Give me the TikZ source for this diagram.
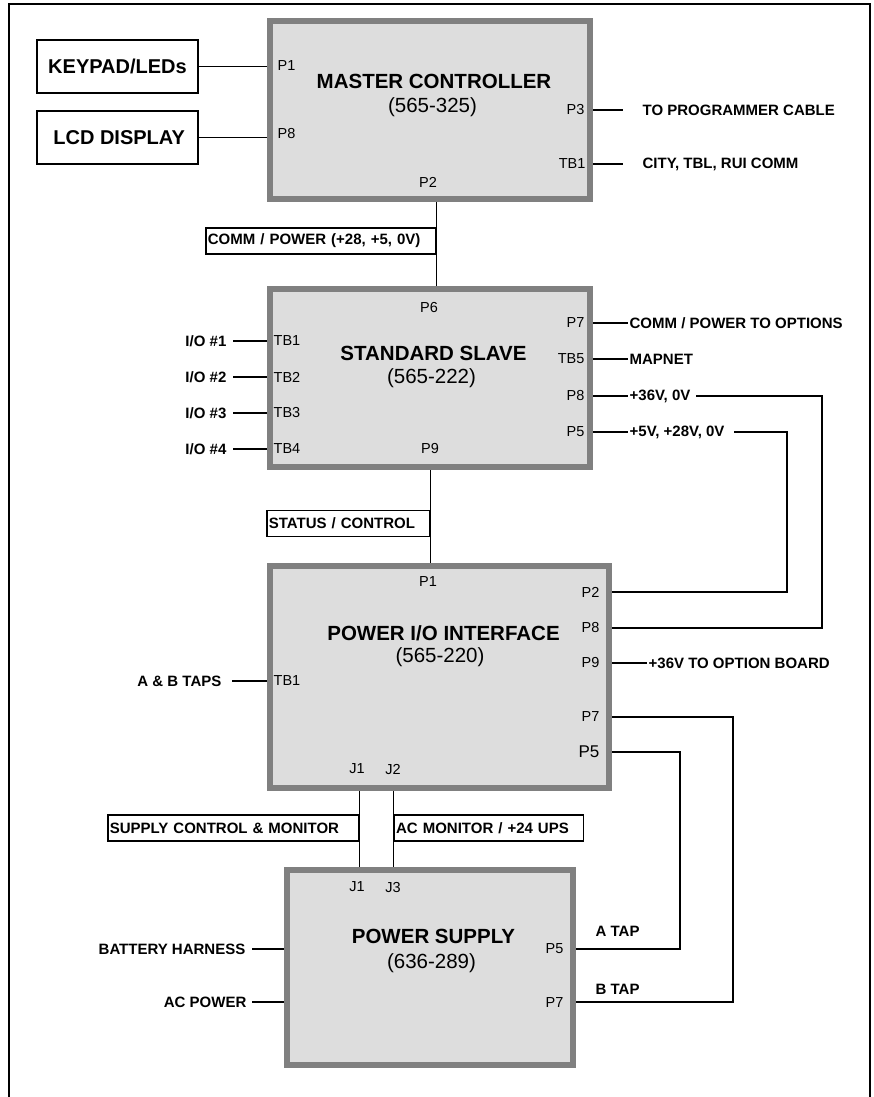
\documentclass[tikz,border=0pt]{standalone}
\usepackage{fontspec}
\setmainfont{Liberation Sans}
\usepackage{tikz}
\usetikzlibrary{positioning, calc}
\definecolor{boardgray}{RGB}{128, 128, 128}
\definecolor{boardfill}{RGB}{221, 221, 221}

\begin{document}
\begin{tikzpicture}[x=1pt, y=-1pt, line width=1.3pt,
    board/.style={draw=boardgray, fill=boardfill, line width=6pt, inner sep=0pt, outer sep=3pt},
    boardname/.style={font=\fontsize{20.5}{24}\selectfont\bfseries, inner sep=0pt, anchor=base},
    partno/.style={font=\fontsize{20.5}{24}\selectfont, inner sep=0pt, anchor=base},
    port/.style={font=\fontsize{14.5}{16}\selectfont, inner sep=1pt},
    sig/.style={font=\fontsize{15}{18}\selectfont\bfseries, inner sep=1pt},
    tag/.style={draw, font=\fontsize{15}{18}\selectfont\bfseries, inner sep=2pt, align=left, minimum height=26pt},
    ext/.style={draw, font=\fontsize{20}{24}\selectfont\bfseries, minimum width=161pt, minimum height=53pt}]
  \useasboundingbox (0,0) rectangle (873,1097);
  % Frame
  \draw[line width=1.5pt] (9,1097) |- (870,4) -- (870,1097);

  % Boards
  \node[board, minimum width=320pt, minimum height=178pt] (mc) at (430,110) {};
  \node[board, minimum width=320pt, minimum height=178pt] (ss) at (430,378) {};
  \node[board, minimum width=339pt, minimum height=222pt] (pio) at (439.5,677) {};
  \node[board, minimum width=286pt, minimum height=195pt] (ps) at (430,967.5) {};

  \node[boardname] (mcT) at (434,89) {MASTER CONTROLLER};
  \node[partno] (mcN) at (432.5,113) {(565-325)};
  \node[boardname] (ssT) at (433.5,360) {STANDARD SLAVE};
  \node[partno] (ssN) at (431.5,383) {(565-222)};
  \node[boardname] (pioT) at (443.5,640) {POWER I/O INTERFACE};
  \node[partno] (pioN) at (440,662.5) {(565-220)};
  \node[boardname] (psT) at (433.5,943) {POWER SUPPLY};
  \node[partno] (psN) at (431.5,968) {(636-289)};

  % Master controller
  \node[ext] (kp) at (117.5,66.5) {KEYPAD/LEDs};
  \node[ext] (lcd) at (117.5,137.5) {\,LCD DISPLAY};
  \node[port, anchor=west] (mcP1) at (276,66) {P1};
  \node[port, anchor=west] (mcP8) at (276,134) {P8};
  \node[port] (mcP2) at (428,182) {P2};
  \node[port, anchor=east] (mcP3) at (586,110) {P3};
  \node[port, anchor=east] (mcTB1) at (587,164) {TB1};
  \node[sig, anchor=west] (prog) at (641,110) {TO PROGRAMMER CABLE};
  \node[sig, anchor=west] (city) at (641,164) {CITY, TBL, RUI COMM};
  \draw (kp.east) -- (kp.east -| mc.west);
  \draw (lcd.east) -- (lcd.east -| mc.west);
  \draw (mc.east |- prog) -- ([xshift=-18pt]prog.west);
  \draw (mc.east |- city) -- ([xshift=-18pt]city.west);

  \node[tag, text width=226pt, anchor=east] (cpw) at (436.5,241) {COMM / POWER (+28, +5, 0V)};
  \draw (cpw.east |- mc.south) -- (cpw.east |- ss.north);

  % Standard slave
  \node[port] (ssP6) at (429,308) {P6};
  \node[port] (ssP9) at (430,449) {P9};
  \foreach \n/\y in {1/341, 2/377, 3/413, 4/449} {
    \node[port, anchor=west] (ssTB\n) at (272,\y) {TB\n};
    \node[sig, anchor=east] (io\n) at (228,\y) {I/O \#\n};
    \draw ([xshift=5pt]io\n.east) -- (io\n.east -| ss.west);
  }
  \node[port, anchor=east] (ssP7) at (586,323) {P7};
  \node[port, anchor=east] (ssTB5) at (586,359) {TB5};
  \node[port, anchor=east] (ssP8) at (586,396) {P8};
  \node[port, anchor=east] (ssP5) at (586,432) {P5};
  \node[sig, anchor=west] (opt) at (628,323) {COMM / POWER TO OPTIONS};
  \node[sig, anchor=west] (mapnet) at (628,359) {MAPNET};
  \node[sig, anchor=west] (v36) at (628,396) {+36V, 0V};
  \node[sig, anchor=west] (v528) at (628,432) {+5V, +28V, 0V};
  \draw (ss.east |- opt) -- (opt.west);
  \draw (ss.east |- mapnet) -- (mapnet.west);
  \draw (ss.east |- v36) -- (v36.west);
  \draw (ss.east |- v528) -- (v528.west);

  \node[tag, text width=159pt, anchor=east] (stat) at (430.5,523.5) {STATUS / CONTROL};
  \draw (stat.east |- ss.south) -- (stat.east |- pio.north);

  % Power I/O interface
  \node[port] (pioP1) at (428,582) {P1};
  \node[port] (pioJ1) at (357,769) {J1};
  \node[port] (pioJ2) at (393,769) {J2};
  \node[port, anchor=west] (pioTB1) at (272,681) {TB1};
  \node[sig, anchor=east] (taps) at (223,681) {A \& B TAPS};
  \draw ([xshift=9pt]taps.east) -- (taps.east -| pio.west);
  \node[port, anchor=east] (pioP2) at (601,592) {P2};
  \node[port, anchor=east] (pioP8) at (601,628) {P8};
  \node[port, anchor=east] (pioP9) at (601,663) {P9};
  \node[port, anchor=east] (pioP7) at (601,717) {P7};
  \node[port, anchor=east, font=\fontsize{17}{20}\selectfont] (pioP5) at (601,752) {P5};
  \node[sig, anchor=west] (obrd) at (647,663) {+36V TO OPTION BOARD};
  \draw (pio.east |- obrd) -- (obrd.west);

  \coordinate (riserA) at (822,0);
  \coordinate (riserB) at (787,0);
  \coordinate (riserC) at (680,0);
  \coordinate (riserD) at (733,0);
  \draw ([xshift=4pt]v36.east) -| (riserA |- pioP8) -- (pio.east |- pioP8);
  \draw ([xshift=8pt]v528.east) -| (riserB |- pioP2) -- (pio.east |- pioP2);

  \node[tag, text width=247pt, anchor=east] (scm) at (359.5,828) {SUPPLY CONTROL \& MONITOR};
  \node[tag, text width=185pt, anchor=west] (acm) at (393.5,828) {AC MONITOR / +24 UPS};
  \draw (scm.east |- pio.south) -- (scm.east |- ps.north);
  \draw (acm.west |- pio.south) -- (acm.west |- ps.north);

  % Power supply
  \node[port] (psJ1) at (357,887) {J1};
  \node[port] (psJ3) at (393,887) {J3};
  \node[sig, anchor=east] (batt) at (247,949) {BATTERY HARNESS};
  \node[sig, anchor=east] (acpw) at (248,1002) {AC POWER};
  \draw ([xshift=5pt]batt.east) -- (batt.east -| ps.west);
  \draw ([xshift=4pt]acpw.east) -- (acpw.east -| ps.west);
  \node[port, anchor=east] (psP5) at (565,949) {P5};
  \node[port, anchor=east] (psP7) at (565,1002) {P7};
  \node[sig, anchor=west] (atap) at (594,931) {A TAP};
  \node[sig, anchor=west] (btap) at (594,989) {B TAP};
  \draw (pio.east |- pioP5) -| (riserC |- psP5) -- (ps.east |- psP5);
  \draw (pio.east |- pioP7) -| (riserD |- psP7) -- (ps.east |- psP7);
\end{tikzpicture}
\end{document}
